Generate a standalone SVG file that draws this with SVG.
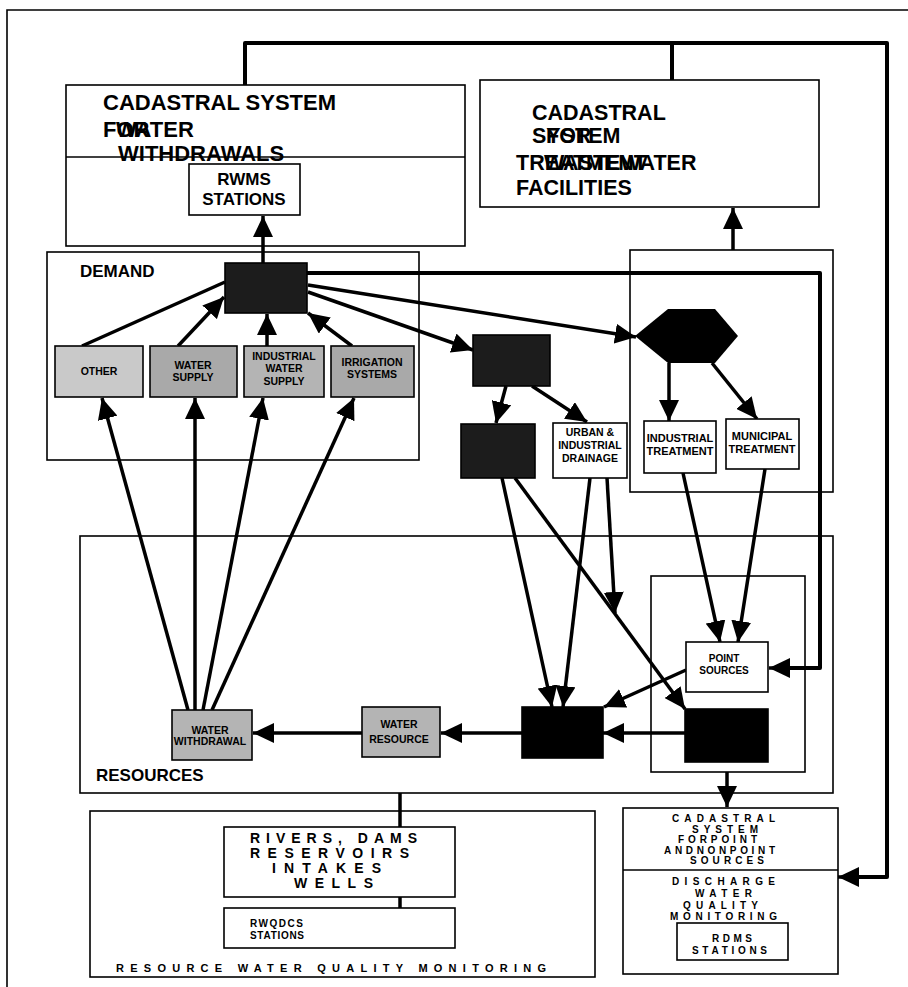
<svg xmlns="http://www.w3.org/2000/svg" width="908" height="987" viewBox="0 0 908 987">
<style>
text{font-family:"Liberation Sans",Arial,sans-serif;font-weight:bold;fill:#000}
.box{fill:#fff;stroke:#000;stroke-width:1.6}
.cont{fill:none;stroke:#000;stroke-width:1.6}
.dark{fill:#1c1c1c;stroke:#000;stroke-width:1.6}
.blk{fill:#000;stroke:#000;stroke-width:1.6}
.g1{fill:#c9c9c9;stroke:#000;stroke-width:1.6}
.g2{fill:#a9a9a9;stroke:#000;stroke-width:1.6}
.g3{fill:#b4b4b4;stroke:#000;stroke-width:1.6}
.big{font-size:22px}
.big2{font-size:21.5px}
.mid{font-size:17px}
.sm{font-size:10.5px;text-anchor:middle}
.sp{font-size:10px}
.rv{font-size:14px}
.ln{fill:none;stroke:#000;stroke-width:3.5}
.bus{fill:none;stroke:#000;stroke-width:4;stroke-linejoin:round}
.ar{marker-end:url(#ah)}
</style>
<defs>
<marker id="ah" markerUnits="userSpaceOnUse" markerWidth="24" markerHeight="20" refX="21" refY="10" orient="auto">
<path d="M0,0 L21,10 L0,20 z" fill="#000"/>
</marker>
</defs>
<rect width="908" height="987" fill="#fff"/>
<path d="M908,10 H7 V987" fill="none" stroke="#000" stroke-width="1.6"/>

<g id="cad-withdrawals">
<rect class="box" x="66" y="85" width="399" height="161"/>
<line x1="66" y1="157" x2="465" y2="157" stroke="#000" stroke-width="1.6"/>
<text class="big" x="103" y="110">CADASTRAL SYSTEM</text>
<text class="big" x="103" y="137">FOR</text>
<text class="big" x="116" y="137">WATER</text>
<text class="big" x="118" y="161">WITHDRAWALS</text>
</g>
<g id="rwms">
<rect class="box" x="189" y="164" width="111" height="51"/>
<text class="mid" x="244" y="185" text-anchor="middle">RWMS</text>
<text class="mid" x="244" y="205" text-anchor="middle">STATIONS</text>
</g>
<g id="cad-treatment">
<rect class="box" x="480" y="80" width="339" height="127"/>
<text class="big2" x="532" y="120">CADASTRAL</text>
<text class="big2" x="532" y="143">SYSTEM</text>
<text class="big2" x="546" y="143">FOR</text>
<text class="big2" x="516" y="170">TREATMENT</text>
<text class="big2" x="544" y="170">WASTEWATER</text>
<text class="big2" x="516" y="195">FACILITIES</text>
</g>

<g id="demand">
<rect class="cont" x="47" y="252" width="372" height="208"/>
<text class="mid" x="80" y="277">DEMAND</text>
</g>
<g id="treatment-container">
<rect class="cont" x="630" y="250" width="203" height="242"/>
</g>
<g id="resources">
<rect class="cont" x="80" y="536" width="753" height="257"/>
<text class="mid" x="96" y="781">RESOURCES</text>
</g>
<g id="ps-container">
<rect class="cont" x="651" y="576" width="154" height="196"/>
</g>
<g id="monitoring">
<rect class="box" x="90" y="811" width="505" height="166"/>
<text class="sp" x="116" y="972" textLength="430" lengthAdjust="spacing" style="font-size:11px">RESOURCE WATER QUALITY MONITORING</text>
</g>

<g id="connectors">
<path class="bus" d="M245,85 V43 H887 V877 H858"/>
<path class="bus" d="M672,43 V80"/>
<path class="ln ar" d="M858,877 H838"/>
<path class="ln ar" d="M263,263 V216"/>
<path class="ln" d="M82,346 L225,282"/>
<path class="ln ar" d="M178,346 L224,297"/>
<path class="ln ar" d="M267,346 V314"/>
<path class="ln ar" d="M352,346 L308,313"/>
<path class="bus" d="M307,273 H820 V668 H790"/>
<path class="ln ar" d="M790,668 H769"/>
<path class="ln ar" d="M308,285 L636,337"/>
<path class="ln ar" d="M308,292 L473,350"/>
<path class="ln ar" d="M506,386 L496,423"/>
<path class="ln ar" d="M532,386 L587,422"/>
<path class="ln ar" d="M669,363 V421"/>
<path class="ln ar" d="M712,363 L757,419"/>
<path class="ln ar" d="M733,250 V208"/>
<path class="ln ar" d="M683,473 L720,642"/>
<path class="ln ar" d="M765,469 L738,642"/>
<path class="ln ar" d="M502,478 L552,707"/>
<path class="ln ar" d="M515,478 L685,709"/>
<path class="ln ar" d="M590,478 L563,707"/>
<path class="ln ar" d="M607,478 L615,613"/>
<path class="ln ar" d="M686,670 L604,707"/>
<path class="ln ar" d="M685,733 H603"/>
<path class="ln ar" d="M522,733 H441"/>
<path class="ln ar" d="M362,733 H253"/>
<path class="ln ar" d="M188,710 L102,398"/>
<path class="ln ar" d="M195,710 L195,398"/>
<path class="ln ar" d="M203,710 L263,398"/>
<path class="ln ar" d="M212,710 L354,398"/>
<path class="ln" d="M400,793 V827"/>
<path class="ln" d="M400,897 V908"/>
<path class="ln ar" d="M727,772 V807"/>
</g>

<g id="users"><rect class="dark" x="225" y="263" width="82" height="50"/></g>
<g id="other">
<rect class="g1" x="55" y="346" width="88" height="51"/>
<text class="sm" x="99" y="375">OTHER</text>
</g>
<g id="water-supply">
<rect class="g2" x="150" y="346" width="87" height="51"/>
<text class="sm" x="193" y="369">WATER</text>
<text class="sm" x="193" y="381">SUPPLY</text>
</g>
<g id="industrial-supply">
<rect class="g3" x="244" y="346" width="80" height="51"/>
<text class="sm" x="284" y="360">INDUSTRIAL</text>
<text class="sm" x="284" y="372">WATER</text>
<text class="sm" x="284" y="385">SUPPLY</text>
</g>
<g id="irrigation">
<rect class="g2" x="331" y="346" width="83" height="51"/>
<text class="sm" x="372" y="366">IRRIGATION</text>
<text class="sm" x="372" y="378">SYSTEMS</text>
</g>
<g id="box2"><rect class="dark" x="473" y="335" width="77" height="51"/></g>
<g id="box3"><rect class="dark" x="461" y="424" width="74" height="54"/></g>
<g id="urban">
<rect class="box" x="553" y="423" width="74" height="55"/>
<text class="sm" x="590" y="436">URBAN &amp;</text>
<text class="sm" x="590" y="449">INDUSTRIAL</text>
<text class="sm" x="590" y="462">DRAINAGE</text>
</g>
<g id="hexagon"><polygon points="635,336 668,309 715,309 738,336 715,363 668,363" fill="#000"/></g>
<g id="ind-treatment">
<rect class="box" x="644" y="421" width="72" height="52"/>
<text class="sm" x="680" y="442" style="font-size:11px">INDUSTRIAL</text>
<text class="sm" x="680" y="455" style="font-size:11px">TREATMENT</text>
</g>
<g id="mun-treatment">
<rect class="box" x="726" y="419" width="73" height="50"/>
<text class="sm" x="762" y="440" style="font-size:11px">MUNICIPAL</text>
<text class="sm" x="762" y="453" style="font-size:11px">TREATMENT</text>
</g>
<g id="point-sources">
<rect class="box" x="686" y="642" width="82" height="50"/>
<text class="sm" x="724" y="662" style="font-size:10px">POINT</text>
<text class="sm" x="724" y="674" style="font-size:10px">SOURCES</text>
</g>
<g id="boxA"><rect class="blk" x="522" y="707" width="81" height="51"/></g>
<g id="boxB"><rect class="blk" x="685" y="709" width="83" height="53"/></g>
<g id="water-withdrawal">
<rect class="g3" x="172" y="710" width="80" height="50"/>
<text class="sm" x="210" y="734">WATER</text>
<text class="sm" x="210" y="745">WITHDRAWAL</text>
</g>
<g id="water-resource">
<rect class="g3" x="362" y="707" width="78" height="50"/>
<text class="sm" x="399" y="728">WATER</text>
<text class="sm" x="399" y="743">RESOURCE</text>
</g>
<g id="rivers">
<rect class="box" x="224" y="827" width="231" height="70"/>
<text class="rv" x="250" y="843" textLength="167" lengthAdjust="spacing">RIVERS, DAMS</text>
<text class="rv" x="250" y="858" textLength="159" lengthAdjust="spacing">RESERVOIRS</text>
<text class="rv" x="272" y="873" textLength="109" lengthAdjust="spacing">INTAKES</text>
<text class="rv" x="294" y="888" textLength="79" lengthAdjust="spacing">WELLS</text>
</g>
<g id="rwqdcs">
<rect class="box" x="224" y="908" width="231" height="40"/>
<text class="sp" x="250" y="927" textLength="53" lengthAdjust="spacing">RWQDCS</text>
<text class="sp" x="250" y="939" textLength="54" lengthAdjust="spacing">STATIONS</text>
</g>
<g id="cad-point">
<rect class="box" x="623" y="808" width="215" height="166"/>
<line x1="623" y1="870" x2="838" y2="870" stroke="#000" stroke-width="1.6"/>
<text class="sp" x="672" y="822" textLength="103" lengthAdjust="spacing">CADASTRAL</text>
<text class="sp" x="692" y="833" textLength="66" lengthAdjust="spacing">SYSTEM</text>
<text class="sp" x="678" y="843" textLength="79" lengthAdjust="spacing">FORPOINT</text>
<text class="sp" x="664" y="854" textLength="111" lengthAdjust="spacing">ANDNONPOINT</text>
<text class="sp" x="690" y="864" textLength="74" lengthAdjust="spacing">SOURCES</text>
<text class="sp" x="672" y="885" textLength="103" lengthAdjust="spacing">DISCHARGE</text>
<text class="sp" x="695" y="897" textLength="57" lengthAdjust="spacing">WATER</text>
<text class="sp" x="683" y="909" textLength="75" lengthAdjust="spacing">QUALITY</text>
<text class="sp" x="670" y="920" textLength="107" lengthAdjust="spacing">MONITORING</text>
</g>
<g id="rdms">
<rect class="box" x="677" y="923" width="111" height="37"/>
<text class="sp" x="712" y="942" textLength="40" lengthAdjust="spacing">RDMS</text>
<text class="sp" x="692" y="954" textLength="75" lengthAdjust="spacing">STATIONS</text>
</g>
</svg>
